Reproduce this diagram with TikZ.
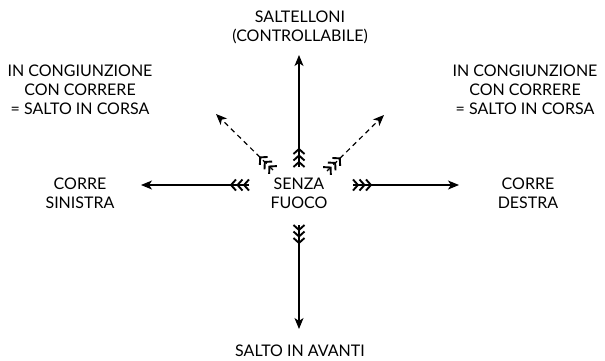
\documentclass[tikz,border=0pt]{standalone}
\usepackage{fontspec}
\setmainfont{Lato}
\usetikzlibrary{arrows.meta,decorations.markings}
\begin{document}
\begin{tikzpicture}[x=1pt,y=-1pt,
  lbl/.style={align=center,font=\fontsize{16}{19}\selectfont,inner sep=0pt},
  feather/.style={-,solid,line width=1.9pt,line cap=butt,line join=miter},
  fletched/.style={line width=1.2pt,-{Stealth[length=11pt,width=9pt,inset=3pt]},
    postaction={decorate},
    decoration={markings,
      mark=at position 5pt with {\draw[feather] (-5,5.5) -- (0,0) -- (-5,-5.5);},
      mark=at position 11.5pt with {\draw[feather] (-5,5.5) -- (0,0) -- (-5,-5.5);},
      mark=at position 18pt with {\draw[feather] (-5,5.5) -- (0,0) -- (-5,-5.5);}}},
  dashshaft/.style={dash pattern=on 5pt off 4pt}]
\useasboundingbox (0,0) rectangle (605,360);

% labels
\node[lbl] (centre) at (299,193) {SENZA\\FUOCO};
\node[lbl] (up) at (300,27) {SALTELLONI\\(CONTROLLABILE)};
\node[lbl] (ul) at (80,90) {IN CONGIUNZIONE\\CON CORRERE\\= SALTO IN CORSA};
\node[lbl] (ur) at (525,90) {IN CONGIUNZIONE\\CON CORRERE\\= SALTO IN CORSA};
\node[lbl] (left) at (80,193) {CORRE\\SINISTRA};
\node[lbl] (right) at (528,193) {CORRE\\DESTRA};
\node[lbl] (down) at (300,351) {SALTO IN AVANTI};

% arrow tails and tips
\coordinate (upT) at (299,167);  \coordinate (upH) at (299,55);
\coordinate (dnT) at (299,225);  \coordinate (dnH) at (299,329);
\coordinate (lfT) at (249,185);  \coordinate (lfH) at (141,185);
\coordinate (rtT) at (353,185);  \coordinate (rtH) at (459,185);
\coordinate (ulT) at (273,170);  \coordinate (ulH) at (216,114);
\coordinate (urT) at (327,171);  \coordinate (urH) at (384,115);

\draw[fletched] (upT) -- (upH);
\draw[fletched] (dnT) -- (dnH);
\draw[fletched] (lfT) -- (lfH);
\draw[fletched] (rtT) -- (rtH);
\draw[fletched,dashshaft] (ulT) -- (ulH);
\draw[fletched,dashshaft] (urT) -- (urH);
\end{tikzpicture}
\end{document}
